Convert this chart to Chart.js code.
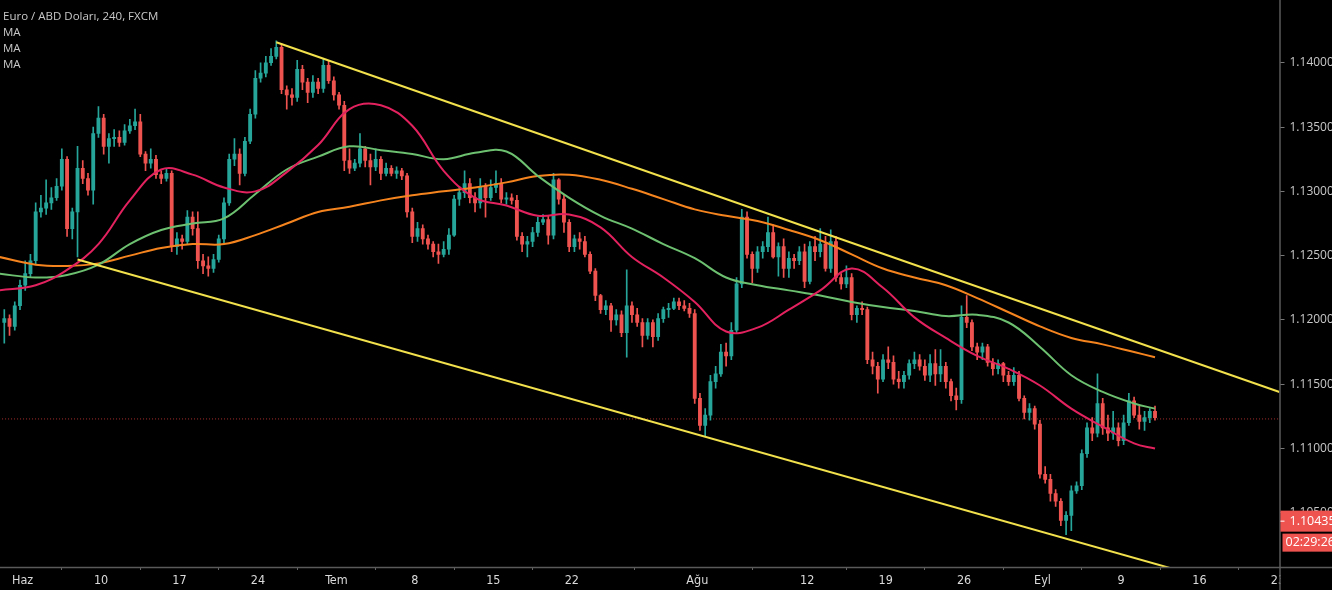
<!DOCTYPE html>
<html>
<head>
<meta charset="utf-8">
<script src="https://cdn.jsdelivr.net/npm/chart.js@4/dist/chart.umd.min.js"></script>
<style>
  html, body { margin: 0; padding: 0; background: #000; }
  #wrap { width: 1332px; height: 590px; }
</style>
</head>
<body>
<div id="wrap"><canvas id="priceChart" width="1332" height="590"></canvas></div>
<script>
// EUR/USD 4h (3 candles per trading day)
const open = [
  1.1198,1.1201,1.1195,1.1211,1.1227,1.1236,1.1246,1.1284,1.1287,1.1291,
  1.1295,1.1304,1.1325,1.1271,1.1284,1.1318,1.1310,1.1301,1.1345,1.1357,
  1.1335,1.1341,1.1342,1.1338,1.1347,1.1351,1.1354,1.1329,1.1322,1.1325,
  1.1313,1.1310,1.1314,1.1257,1.1263,1.1261,1.1280,1.1271,1.1246,1.1242,
  1.1240,1.1247,1.1263,1.1291,1.1325,1.1329,1.1314,1.1339,1.1360,1.1388,
  1.1392,1.1400,1.1405,1.1412,1.1379,1.1375,1.1373,1.1395,1.1385,1.1377,
  1.1385,1.1380,1.1398,1.1386,1.1375,1.1367,1.1324,1.1318,1.1322,1.1333,
  1.1324,1.1319,1.1325,1.1314,1.1318,1.1314,1.1316,1.1312,1.1284,1.1265,
  1.1271,1.1263,1.1259,1.1253,1.1251,1.1255,1.1266,1.1294,1.1299,1.1306,
  1.1295,1.1291,1.1304,1.1295,1.1303,1.1306,1.1294,1.1295,1.1293,1.1265,
  1.1259,1.1261,1.1268,1.1276,1.1278,1.1266,1.1309,1.1294,1.1276,1.1257,
  1.1263,1.1261,1.1251,1.1238,1.1219,1.1208,1.1211,1.1200,1.1204,1.1190,
  1.1211,1.1204,1.1198,1.1188,1.1198,1.1187,1.1201,1.1208,1.1209,1.1214,
  1.1211,1.1209,1.1205,1.1139,1.1118,1.1126,1.1152,1.1158,1.1175,1.1172,
  1.1192,1.1228,1.1280,1.1251,1.1240,1.1253,1.1257,1.1268,1.1249,1.1257,
  1.1240,1.1248,1.1246,1.1253,1.1230,1.1257,1.1253,1.1259,1.1240,1.1261,
  1.1233,1.1228,1.1233,1.1204,1.1209,1.1208,1.1169,1.1164,1.1154,1.1169,
  1.1167,1.1154,1.1152,1.1157,1.1166,1.1169,1.1164,1.1157,1.1166,1.1158,
  1.1164,1.1152,1.1141,1.1138,1.1202,1.1198,1.1179,1.1175,1.1179,1.1167,
  1.1162,1.1166,1.1157,1.1152,1.1157,1.1139,1.1128,1.1131,1.1119,1.1080,
  1.1076,1.1065,1.1059,1.1044,1.1048,1.1067,1.1071,1.1096,1.1116,1.1112,
  1.1135,1.1116,1.1112,1.1116,1.1106,1.1120,1.1137,1.1126,1.1121,1.1124,
  1.1129
];
const high = [
  1.1208,1.1204,1.1214,1.1231,1.1246,1.1251,1.1291,1.1297,1.1309,1.1303,
  1.1310,1.1333,1.1327,1.1287,1.1335,1.1324,1.1314,1.1350,1.1366,1.1360,
  1.1345,1.1348,1.1347,1.1352,1.1356,1.1364,1.1360,1.1331,1.1333,1.1328,
  1.1316,1.1318,1.1316,1.1268,1.1266,1.1285,1.1284,1.1284,1.1251,1.1249,
  1.1251,1.1266,1.1295,1.1329,1.1341,1.1333,1.1342,1.1364,1.1394,1.1400,
  1.1405,1.1411,1.1417,1.1415,1.1382,1.1380,1.1402,1.1398,1.1388,1.1390,
  1.1388,1.1403,1.1402,1.1389,1.1377,1.1370,1.1333,1.1325,1.1345,1.1335,
  1.1329,1.1333,1.1327,1.1322,1.1320,1.1319,1.1318,1.1314,1.1287,1.1276,
  1.1274,1.1266,1.1261,1.1259,1.1261,1.1271,1.1297,1.1304,1.1316,1.1310,
  1.1299,1.1310,1.1306,1.1309,1.1316,1.1310,1.1299,1.1298,1.1297,1.1268,
  1.1265,1.1272,1.1280,1.1282,1.1281,1.1314,1.1310,1.1297,1.1278,1.1266,
  1.1268,1.1265,1.1253,1.1240,1.1220,1.1215,1.1213,1.1208,1.1207,1.1239,
  1.1214,1.1209,1.1201,1.1201,1.1200,1.1205,1.1210,1.1213,1.1217,1.1217,
  1.1215,1.1213,1.1208,1.1143,1.1131,1.1157,1.1164,1.1181,1.1182,1.1198,
  1.1233,1.1286,1.1284,1.1253,1.1257,1.1261,1.1280,1.1274,1.1260,1.1263,
  1.1253,1.1251,1.1257,1.1259,1.1261,1.1265,1.1271,1.1265,1.1270,1.1265,
  1.1236,1.1242,1.1236,1.1211,1.1214,1.1210,1.1175,1.1167,1.1173,1.1179,
  1.1172,1.1160,1.1160,1.1169,1.1175,1.1173,1.1169,1.1173,1.1177,1.1177,
  1.1167,1.1154,1.1147,1.1211,1.1219,1.1200,1.1182,1.1182,1.1181,1.1170,
  1.1169,1.1167,1.1160,1.1163,1.1160,1.1141,1.1135,1.1133,1.1122,1.1086,
  1.1080,1.1068,1.1061,1.1051,1.1071,1.1074,1.1099,1.1120,1.1124,1.1158,
  1.1139,1.1126,1.1129,1.1120,1.1126,1.1143,1.1140,1.1133,1.1129,1.1131,
  1.1133
];
const low = [
  1.1182,1.1188,1.1192,1.1208,1.1223,1.1233,1.1243,1.1280,1.1282,1.1286,
  1.1293,1.1301,1.1265,1.1263,1.1249,1.1306,1.1297,1.1290,1.1342,1.1329,
  1.1322,1.1335,1.1335,1.1336,1.1345,1.1348,1.1327,1.1316,1.1318,1.1310,
  1.1306,1.1308,1.1253,1.1251,1.1255,1.1259,1.1266,1.1240,1.1236,1.1234,
  1.1237,1.1245,1.1260,1.1289,1.1320,1.1305,1.1312,1.1337,1.1357,1.1385,
  1.1389,1.1398,1.1403,1.1376,1.1364,1.1367,1.1370,1.1379,1.1369,1.1373,
  1.1376,1.1377,1.1384,1.1371,1.1364,1.1316,1.1314,1.1316,1.1319,1.1319,
  1.1305,1.1316,1.1309,1.1312,1.1312,1.1310,1.1309,1.1280,1.1260,1.1261,
  1.1259,1.1255,1.1249,1.1244,1.1249,1.1251,1.1265,1.1289,1.1295,1.1291,
  1.1284,1.1287,1.1280,1.1293,1.1299,1.1291,1.1290,1.1290,1.1262,1.1253,
  1.1249,1.1257,1.1265,1.1274,1.1259,1.1263,1.1290,1.1268,1.1253,1.1253,
  1.1255,1.1249,1.1236,1.1215,1.1205,1.1204,1.1191,1.1196,1.1187,1.1171,
  1.1198,1.1195,1.1179,1.1185,1.1179,1.1184,1.1198,1.1202,1.1208,1.1208,
  1.1207,1.1202,1.1135,1.1114,1.1110,1.1122,1.1147,1.1156,1.1164,1.1169,
  1.1190,1.1225,1.1248,1.1229,1.1237,1.1248,1.1253,1.1248,1.1234,1.1233,
  1.1233,1.1240,1.1243,1.1225,1.1228,1.1246,1.1249,1.1238,1.1237,1.1230,
  1.1224,1.1225,1.1200,1.1198,1.1204,1.1166,1.1158,1.1143,1.1152,1.1162,
  1.1150,1.1147,1.1147,1.1154,1.1162,1.1161,1.1153,1.1152,1.1149,1.1152,
  1.1147,1.1137,1.1130,1.1135,1.1194,1.1176,1.1169,1.1169,1.1164,1.1157,
  1.1158,1.1152,1.1149,1.1149,1.1137,1.1123,1.1122,1.1115,1.1077,1.1073,
  1.1059,1.1055,1.1040,1.1033,1.1036,1.1065,1.1068,1.1093,1.1106,1.1109,
  1.1111,1.1106,1.1107,1.1102,1.1103,1.1118,1.1124,1.1115,1.1114,1.1120,
  1.1122
];
const close = [
  1.1201,1.1195,1.1211,1.1227,1.1236,1.1246,1.1284,1.1287,1.1291,1.1295,
  1.1304,1.1325,1.1271,1.1284,1.1318,1.1310,1.1301,1.1345,1.1357,1.1335,
  1.1341,1.1342,1.1338,1.1347,1.1351,1.1354,1.1329,1.1322,1.1325,1.1313,
  1.1310,1.1314,1.1257,1.1263,1.1261,1.1280,1.1271,1.1246,1.1242,1.1240,
  1.1247,1.1263,1.1291,1.1325,1.1329,1.1314,1.1339,1.1360,1.1388,1.1392,
  1.1400,1.1405,1.1412,1.1379,1.1375,1.1373,1.1395,1.1385,1.1377,1.1385,
  1.1380,1.1398,1.1386,1.1375,1.1367,1.1324,1.1318,1.1322,1.1333,1.1324,
  1.1319,1.1325,1.1314,1.1318,1.1314,1.1316,1.1312,1.1284,1.1265,1.1271,
  1.1263,1.1259,1.1253,1.1251,1.1255,1.1266,1.1294,1.1299,1.1306,1.1295,
  1.1291,1.1304,1.1295,1.1303,1.1306,1.1294,1.1295,1.1293,1.1265,1.1259,
  1.1261,1.1268,1.1276,1.1278,1.1266,1.1309,1.1294,1.1276,1.1257,1.1263,
  1.1261,1.1251,1.1238,1.1219,1.1208,1.1211,1.1200,1.1204,1.1190,1.1211,
  1.1204,1.1198,1.1188,1.1198,1.1187,1.1201,1.1208,1.1209,1.1214,1.1211,
  1.1209,1.1205,1.1139,1.1118,1.1126,1.1152,1.1158,1.1175,1.1172,1.1192,
  1.1228,1.1280,1.1251,1.1240,1.1253,1.1257,1.1268,1.1249,1.1257,1.1240,
  1.1248,1.1246,1.1253,1.1230,1.1257,1.1253,1.1259,1.1240,1.1261,1.1233,
  1.1228,1.1233,1.1204,1.1209,1.1208,1.1169,1.1164,1.1154,1.1169,1.1167,
  1.1154,1.1152,1.1157,1.1166,1.1169,1.1164,1.1157,1.1166,1.1158,1.1164,
  1.1152,1.1141,1.1138,1.1202,1.1198,1.1179,1.1175,1.1179,1.1167,1.1162,
  1.1166,1.1157,1.1152,1.1157,1.1139,1.1128,1.1131,1.1119,1.1080,1.1076,
  1.1065,1.1059,1.1044,1.1048,1.1067,1.1071,1.1096,1.1116,1.1112,1.1135,
  1.1116,1.1112,1.1116,1.1106,1.1120,1.1137,1.1126,1.1121,1.1124,1.1129,
  1.1124
];

// moving averages, read every 6 candles
const maIndex = [-1,6,12,18,24,30,36,42,48,54,60,66,72,78,84,90,96,102,108,114,120,126,132,138,144,150,156,162,168,174,180,186,192,198,204,210,216,220];
const maRed = [1.1223,1.1227,1.1239,1.1259,1.1293,1.1317,1.1313,1.1303,1.1300,1.1315,1.1336,1.1364,1.1367,1.1351,1.1316,1.1295,1.1289,1.1281,1.1282,1.1272,1.1249,1.1233,1.1214,1.1191,1.1194,1.1208,1.1223,1.1240,1.1225,1.1202,1.1186,1.1172,1.1162,1.1149,1.1131,1.1117,1.1104,1.1100];
const maGreen = [1.1236,1.1233,1.1235,1.1243,1.1259,1.1270,1.1275,1.1279,1.1298,1.1317,1.1327,1.1335,1.1332,1.1329,1.1325,1.1330,1.1331,1.1312,1.1295,1.1281,1.1271,1.1259,1.1248,1.1233,1.1227,1.1223,1.1219,1.1214,1.1210,1.1207,1.1203,1.1204,1.1198,1.1179,1.1157,1.1144,1.1135,1.1131];
const maOrange = [1.1249,1.1243,1.1242,1.1244,1.1250,1.1256,1.1259,1.1259,1.1266,1.1275,1.1284,1.1288,1.1293,1.1297,1.1300,1.1303,1.1307,1.1312,1.1313,1.1309,1.1302,1.1294,1.1286,1.1281,1.1277,1.1270,1.1262,1.1251,1.1240,1.1233,1.1227,1.1217,1.1206,1.1195,1.1186,1.1181,1.1175,1.1171];

// channel lines
const upperX = [52, 243.8];
const upperY = [1.1416, 1.1144];
const lowerX = [14, 243.8];
const lowerY = [1.1247, 1.0983];

const lastLine = 1.1123;
const priceTag = 1.10435;
const countdown = "02:29:26";

const dayTicks = [3.5, 18.5, 33.5, 48.5, 63.5, 78.5, 93.5, 108.5, 132.5, 153.5, 168.5, 183.5, 198.5, 213.5, 228.5, 243.5];
const dayLabels = ["Haz", "10", "17", "24", "Tem", "8", "15", "22", "Ağu", "12", "19", "26", "Eyl", "9", "16", "23"];
const priceTicks = [1.105, 1.11, 1.115, 1.12, 1.125, 1.13, 1.135, 1.14];

const UP = "#26a69a";
const DOWN = "#ef5350";
const candleColors = close.map((c, i) => c >= open[i] ? UP : DOWN);

const overlay = {
  id: "overlay",
  afterDraw(chart) {
    const ctx = chart.ctx;
    const a = chart.chartArea;
    const y = chart.scales.y;
    ctx.save();
    // hide the part of the last date label under the price panel
    ctx.fillStyle = "#000";
    ctx.fillRect(a.right + 1, a.bottom + 1, 60, 40);
    // axis lines
    ctx.strokeStyle = "#5a5a5a";
    ctx.lineWidth = 1.5;
    ctx.beginPath();
    ctx.moveTo(a.right + 0.5, 0);
    ctx.lineTo(a.right + 0.5, 590);
    ctx.moveTo(0, a.bottom + 0.5);
    ctx.lineTo(1332, a.bottom + 0.5);
    ctx.stroke();

    // price tag + countdown
    const py = y.getPixelForValue(priceTag);
    ctx.fillStyle = "#ef5350";
    ctx.fillRect(a.right + 1, py - 10.5, 60, 21);
    ctx.fillRect(a.right + 3, py + 12.5, 60, 18);
    ctx.fillStyle = "#fff";
    ctx.fillRect(a.right + 1, py - 0.5, 4, 1);
    ctx.font = "12.5px 'Open Sans', sans-serif";
    ctx.textBaseline = "middle";
    ctx.fillText(priceTag.toFixed(5), a.right + 10, py);
    ctx.fillText(countdown, a.right + 6, py + 21.5);

    // title and indicator names
    ctx.fillStyle = "#c8c8c8";
    ctx.font = "11.5px 'Open Sans', sans-serif";
    ctx.textBaseline = "alphabetic";
    ctx.fillText("Euro / ABD Doları, 240, FXCM", 3, 20);
    ctx.fillText("MA", 3, 36);
    ctx.fillText("MA", 3, 52);
    ctx.fillText("MA", 3, 67.5);
    ctx.restore();
  }
};

const line = (xs, ys, color, width, order, extra) => Object.assign({
  type: "line",
  data: xs.map((x, i) => ({ x: x, y: ys[i] })),
  borderColor: color,
  borderWidth: width,
  pointRadius: 0,
  fill: false,
  tension: 0.4,
  order: order
}, extra || {});

new Chart(document.getElementById("priceChart"), {
  type: "bar",
  data: {
    datasets: [
      line([-1, 245], [lastLine, lastLine], "#a8302e", 1, 20, { borderDash: [1, 2], tension: 0 }),
      {
        data: close.map((c, i) => ({ x: i, y: [low[i], high[i]] })),
        backgroundColor: candleColors,
        barThickness: 1,
        grouped: false,
        order: 10
      },
      {
        data: close.map((c, i) => ({ x: i, y: [open[i], c] })),
        backgroundColor: candleColors,
        barThickness: 3.2,
        minBarLength: 1,
        grouped: false,
        order: 9
      },
      line(maIndex, maOrange, "#f5841f", 2, 5),
      line(maIndex, maGreen, "#6cc070", 2, 4),
      line(maIndex, maRed, "#e2215f", 2, 3),
      line(upperX, upperY, "#f2e14c", 2, 1, { tension: 0 }),
      line(lowerX, lowerY, "#f2e14c", 2, 1, { tension: 0 })
    ]
  },
  options: {
    responsive: false,
    animation: false,
    events: [],
    layout: { padding: 0 },
    plugins: { legend: { display: false }, tooltip: { enabled: false } },
    scales: {
      x: {
        type: "linear",
        min: -0.822,
        max: 243.8,
        offset: false,
        afterFit: s => { s.height = 23; },
        afterBuildTicks: s => { s.ticks = dayTicks.map(v => ({ value: v })); },
        grid: { display: true, drawOnChartArea: false, drawTicks: true, tickLength: 3, color: "#666" },
        border: { display: false },
        ticks: {
          autoSkip: false,
          maxRotation: 0,
          padding: 3,
          color: "#dadada",
          font: { family: "'Liberation Sans Narrow', 'DejaVu Sans Condensed', sans-serif", size: 12.5 },
          callback: (v, i) => dayLabels[i]
        }
      },
      y: {
        position: "right",
        min: 1.100784,
        max: 1.143935,
        afterFit: s => { s.width = 52.5; },
        afterBuildTicks: s => { s.ticks = priceTicks.map(v => ({ value: v })); },
        grid: { display: true, drawOnChartArea: false, drawTicks: true, tickLength: 5, color: "#777" },
        border: { display: false },
        ticks: {
          padding: 5,
          color: "#c8c8c8",
          font: { family: "'Open Sans', sans-serif", size: 12 },
          callback: v => v.toFixed(5)
        }
      }
    }
  },
  plugins: [overlay]
});
</script>
</body>
</html>
